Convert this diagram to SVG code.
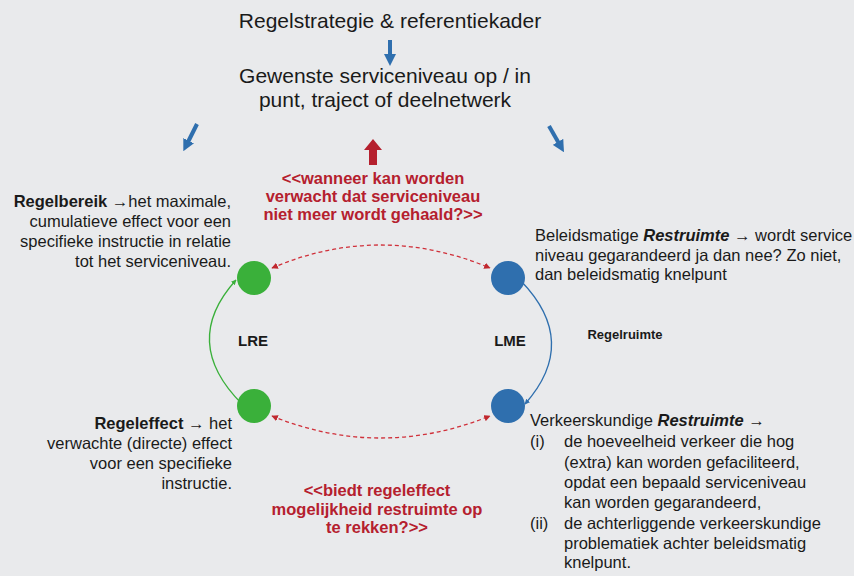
<svg xmlns="http://www.w3.org/2000/svg" width="854" height="576" viewBox="0 0 854 576">
<defs>
<style>
text{font-family:"Liberation Sans",Arial,sans-serif;fill:#1a1a1a}
.t{font-size:21px}
.b{font-size:16.5px}
.bb{font-weight:bold}
.red{fill:#b5202e;font-weight:bold;font-size:16.5px}
.lbl{font-size:15px;font-weight:bold}
</style>
<marker id="ar" viewBox="0 0 10 10" refX="9" refY="5" markerWidth="5" markerHeight="5" orient="auto-start-reverse"><path d="M0,0L10,5L0,10z" fill="#c0282e"/></marker>
<marker id="ag" viewBox="0 0 10 10" refX="9" refY="5" markerWidth="4" markerHeight="4" orient="auto"><path d="M0,0L10,5L0,10z" fill="#3ab03a"/></marker>
<marker id="ab" viewBox="0 0 10 10" refX="9" refY="5" markerWidth="4" markerHeight="4" orient="auto"><path d="M0,0L10,5L0,10z" fill="#2f6fae"/></marker>
<marker id="abig" viewBox="0 0 10 10" refX="5" refY="5" markerWidth="3" markerHeight="3" orient="auto"><path d="M0,0L10,5L0,10z" fill="#2f6fae"/></marker>
</defs>
<rect width="854" height="576" fill="#e9eaec"/>

<g id="connectors">
<line x1="390" y1="40" x2="390" y2="60" stroke="#2f6fae" stroke-width="4" marker-end="url(#abig)"/>
<line x1="197" y1="124" x2="186" y2="146" stroke="#2f6fae" stroke-width="4" marker-end="url(#abig)"/>
<line x1="549" y1="126" x2="561" y2="147" stroke="#2f6fae" stroke-width="4" marker-end="url(#abig)"/>
<path d="M369,165 L369,150 L364,150 L373,139 L382,150 L377,150 L377,165 Z" fill="#b5202e"/>
<path d="M272,268 Q380,222 490,268" fill="none" stroke="#d0303a" stroke-width="1.3" stroke-dasharray="4,3" marker-start="url(#ar)" marker-end="url(#ar)"/>
<path d="M272,416 Q380,460 490,416" fill="none" stroke="#d0303a" stroke-width="1.3" stroke-dasharray="4,3" marker-start="url(#ar)" marker-end="url(#ar)"/>
<path d="M242,404 Q180,342 236,280" fill="none" stroke="#3ab03a" stroke-width="1.3" marker-end="url(#ag)"/>
<path d="M521,281 Q580,342 525,404" fill="none" stroke="#2f6fae" stroke-width="1.3" marker-end="url(#ab)"/>
</g>

<g id="top">
<text class="t" x="390" y="28" text-anchor="middle">Regelstrategie &amp; referentiekader</text>
<text class="t" x="385" y="83" text-anchor="middle">Gewenste serviceniveau op / in</text>
<text class="t" x="385" y="107" text-anchor="middle">punt, traject of deelnetwerk</text>
</g>

<g id="q1">
<text class="red" text-anchor="middle" x="373" y="184">&lt;&lt;wanneer kan worden</text>
<text class="red" text-anchor="middle" x="373" y="202">verwacht dat serviceniveau</text>
<text class="red" text-anchor="middle" x="373" y="220">niet meer wordt gehaald?&gt;&gt;</text>
</g>

<g id="q2">
<text class="red" text-anchor="middle" x="377" y="496">&lt;&lt;biedt regeleffect</text>
<text class="red" text-anchor="middle" x="377" y="515">mogelijkheid restruimte op</text>
<text class="red" text-anchor="middle" x="377" y="533">te rekken?&gt;&gt;</text>
</g>

<g id="regelbereik">
<text class="b" text-anchor="end" x="231" y="207"><tspan class="bb">Regelbereik</tspan> →het maximale,</text>
<text class="b" text-anchor="end" x="231" y="227">cumulatieve effect voor een</text>
<text class="b" text-anchor="end" x="231" y="247">specifieke instructie in relatie</text>
<text class="b" text-anchor="end" x="231" y="267">tot het serviceniveau.</text>
</g>

<g id="regeleffect">
<text class="b" text-anchor="end" x="232" y="429"><tspan class="bb">Regeleffect</tspan> → het</text>
<text class="b" text-anchor="end" x="232" y="449">verwachte (directe) effect</text>
<text class="b" text-anchor="end" x="232" y="469">voor een specifieke</text>
<text class="b" text-anchor="end" x="232" y="489">instructie.</text>
</g>

<g id="beleid">
<text class="b" x="535" y="241">Beleidsmatige <tspan class="bb" font-style="italic">Restruimte</tspan> → wordt service</text>
<text class="b" x="535" y="261">niveau gegarandeerd ja dan nee? Zo niet,</text>
<text class="b" x="535" y="280">dan beleidsmatig knelpunt</text>
</g>

<g id="verkeer">
<text class="b" x="530" y="426">Verkeerskundige <tspan class="bb" font-style="italic">Restruimte</tspan> →</text>
<text class="b" x="530" y="447">(i)</text>
<text class="b" x="564" y="447">de hoeveelheid verkeer die hog</text>
<text class="b" x="564" y="468">(extra) kan worden gefaciliteerd,</text>
<text class="b" x="564" y="488">opdat een bepaald serviceniveau</text>
<text class="b" x="564" y="508">kan worden gegarandeerd,</text>
<text class="b" x="530" y="529">(ii)</text>
<text class="b" x="564" y="529">de achterliggende verkeerskundige</text>
<text class="b" x="564" y="549">problematiek achter beleidsmatig</text>
<text class="b" x="564" y="568">knelpunt.</text>
</g>

<g id="regelruimte"><text class="lbl" x="625" y="339" text-anchor="middle" style="font-size:13px">Regelruimte</text></g>
<g id="LRE"><text class="lbl" x="253" y="346" text-anchor="middle">LRE</text></g>
<g id="LME"><text class="lbl" x="510" y="346" text-anchor="middle">LME</text></g>

<g id="g1"><circle cx="254" cy="278" r="17" fill="#3ab03a"/></g>
<g id="g2"><circle cx="254" cy="406" r="17" fill="#3ab03a"/></g>
<g id="b1"><circle cx="508" cy="278" r="17" fill="#2f6fae"/></g>
<g id="b2"><circle cx="508" cy="406" r="17" fill="#2f6fae"/></g>
</svg>
